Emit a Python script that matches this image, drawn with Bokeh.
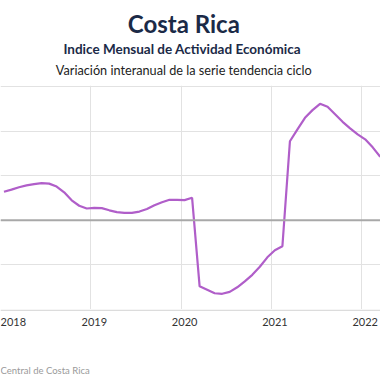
from bokeh.plotting import figure
from bokeh.layouts import column
from bokeh.models import Span, FixedTicker, Range1d
from bokeh.core.properties import value
from bokeh.embed import file_html
from bokeh.resources import INLINE

# Monthly data (year-on-year % change of IMAE trend-cycle), Jan 2018 .. Mar 2022
years = [2018] * 12 + [2019] * 12 + [2020] * 12 + [2021] * 12 + [2022] * 3
months = list(range(1, 13)) * 4 + [1, 2, 3]
values = [
    3.20, 3.44, 3.70, 3.92, 4.06, 4.17, 4.11, 3.78, 3.14, 2.24, 1.63, 1.32,
    1.40, 1.36, 1.12, 0.92, 0.84, 0.84, 0.98, 1.26, 1.68, 2.02, 2.30, 2.29,
    2.26, 2.52, -7.40, -7.79, -8.18, -8.24, -8.02, -7.51, -6.84, -6.11, -5.21, -4.15,
    -3.36, -2.91, 8.86, 10.20, 11.49, 12.35, 13.06, 12.72, 11.88, 11.04, 10.31, 9.64,
    9.08, 8.18, 7.12,
]
year_ticks = [2018, 2019, 2020, 2021, 2022]
y_ticks = [-10, -5, 0, 5, 10, 15]

title = "Costa Rica"
subtitle = "Indice Mensual de  Actividad Económica"
subtitle2 = "Variación interanual de la serie tendencia ciclo"
source = "Central de Costa Rica"

# mid-month positions as decimal years
x = [y + (m - 1) / 12 + 14 / 365 for y, m in zip(years, months)]

FONT = "Lato"
NAVY = "#1b2a47"
X0, X1 = 2018.0, 2022.208
Y0, Y1 = -10, 15
XC = 2020.03  # horizontal centre of the title block
W = 380
H_HEAD, H_MAIN, H_FOOT = 85, 224, 71
PAD_TOP = 1 / 8.92  # one pixel of room above the top grid line

xr = Range1d(X0, X1)


def bare(height, y_range):
    f = figure(width=W, height=height, output_backend="svg", toolbar_location=None,
               x_range=xr, y_range=y_range, x_axis_location=None,
               y_axis_location=None, min_border=0)
    f.outline_line_color = None
    f.background_fill_color = "white"
    f.border_fill_color = "white"
    return f


# ---- header with titles
head = bare(H_HEAD, Range1d(0, H_HEAD))
head.grid.visible = False
head.text(x=[XC], y=[H_HEAD - 22.5], text=[title], text_align="center",
          text_baseline="middle", text_font=value(FONT), text_font_size="24px",
          text_font_style="bold", text_color=NAVY)
head.text(x=[XC], y=[H_HEAD - 48], text=[subtitle], text_align="center",
          text_baseline="middle", text_font=value(FONT), text_font_size="13.5px",
          text_font_style="bold", text_color=NAVY)
head.text(x=[XC], y=[H_HEAD - 69], text=[subtitle2], text_align="center",
          text_baseline="middle", text_font=value(FONT), text_font_size="12.7px",
          text_color="#222222")

# ---- main plot
p = bare(H_MAIN, Range1d(Y0, Y1 + PAD_TOP))
p.xgrid.ticker = FixedTicker(ticks=year_ticks)
p.ygrid.ticker = FixedTicker(ticks=y_ticks)
p.xgrid.grid_line_color = "#e2e2e2"
p.ygrid.grid_line_color = "#e2e2e2"
p.add_layout(Span(location=0, dimension="width", line_color="#a8a8a8", line_width=2))
p.line(x, values, line_color="#b05ec9", line_width=2.2)

# ---- footer: axis line, year labels, source
foot = bare(H_FOOT, Range1d(0, H_FOOT))
foot.grid.visible = False
foot.add_layout(Span(location=H_FOOT - 0.75, dimension="width",
                     line_color="#dcdcdc", line_width=1.5))
label_x = [X0] + [yv + 0.039 for yv in year_ticks[1:]]
label_align = ["left"] + ["center"] * (len(year_ticks) - 1)
foot.text(x=label_x, y=[H_FOOT - 12] * len(year_ticks),
          text=[str(yv) for yv in year_ticks], text_align=label_align,
          text_baseline="middle", text_font=value(FONT), text_font_size="11px",
          text_color="#333333")
foot.text(x=[X0], y=[H_FOOT - 61], text=[source], text_align="left",
          text_baseline="middle", text_font=value(FONT), text_font_size="9.5px",
          text_color="#9a9a9a")

layout = column(head, p, foot, spacing=0)
open("out.html", "w").write(file_html(layout, INLINE))
